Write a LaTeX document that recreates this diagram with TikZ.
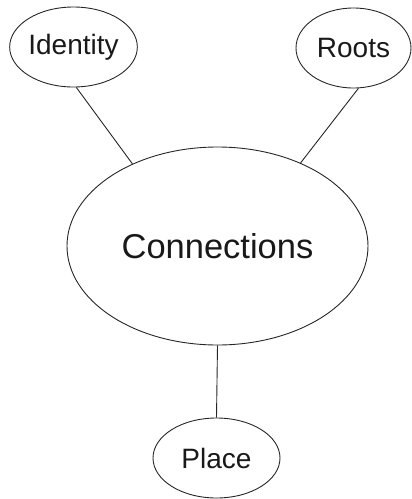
\documentclass[tikz,border=0pt]{standalone}
\usepackage{fontspec}
\setmainfont{Liberation Sans}
\usetikzlibrary{shapes.geometric}
\begin{document}
\begin{tikzpicture}[x=1pt,y=1pt,
  bubble/.style={draw=black!85, line width=0.9pt, ellipse, inner sep=0pt, text=black!90},
  small/.style={bubble, font=\fontsize{28}{32}\selectfont},
  link/.style={draw=black!85, line width=0.9pt}]
\useasboundingbox (0,0) rectangle (412,-499);
\node[small, minimum width=127pt, minimum height=80pt] (id) at (73.5,-47) {Identity};
\node[small, minimum width=115pt, minimum height=80pt] (roots) at (353.5,-48) {Roots};
\node[bubble, minimum width=301pt, minimum height=198pt, font=\fontsize{34.5}{40}\selectfont] (conn) at (217.5,-246) {Connections};
\node[small, minimum width=127pt, minimum height=80pt] (place) at (216.5,-458) {Place};
\draw[link] (id.-86) -- (conn.136.5);
\draw[link] (roots.-83) -- (conn.45.2);
\draw[link] (conn.south) -- (place.north);
\end{tikzpicture}
\end{document}
